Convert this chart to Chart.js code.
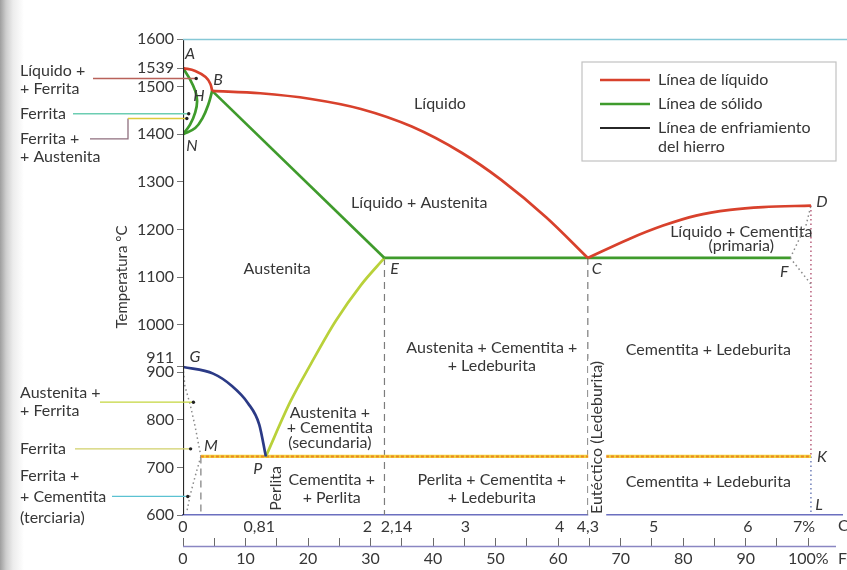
<!DOCTYPE html>
<html lang="es">
<head>
<meta charset="utf-8">
<title>Diagrama hierro-carbono</title>
<script src="https://cdn.jsdelivr.net/npm/chart.js@4.4.1/dist/chart.umd.min.js"></script>
<style>
  html, body { margin: 0; padding: 0; }
  body {
    width: 847px; height: 570px; overflow: hidden;
    background: linear-gradient(to right, #9e9e9e 0px, #cdcdcd 6px, #ececec 13px, #fff 24px);
  }
</style>
</head>
<body>
<canvas id="chart" width="847" height="570"></canvas>
<script>
// Curvas del diagrama: [% de carbono, temperatura °C]
const enfriamiento = [[0, 600], [0, 1600]];
const liquidoAB = [[0, 1539], [0.13, 1533], [0.24, 1520], [0.29, 1506], [0.31, 1491]];
const liquidoBC = [[0.31, 1491], [0.82, 1486], [1.36, 1474], [1.89, 1453], [2.43, 1416],
                   [2.96, 1361], [3.38, 1304], [3.86, 1225], [4.3, 1140]];
const liquidoCD = [[4.3, 1140], [4.74, 1180], [5.10, 1208], [5.45, 1229], [5.81, 1241],
                   [6.16, 1247], [6.67, 1250]];
const solidoAHN = [[0, 1539], [0.075, 1515], [0.13, 1491], [0.15, 1470], [0.13, 1446],
                   [0.075, 1420], [0, 1400]];
const solidoNB = [[0, 1400], [0.13, 1413], [0.21, 1435], [0.27, 1463], [0.31, 1491]];
const solidoBE = [[0.31, 1491], [2.14, 1140]];
const solidoEF = [[2.14, 1140], [6.45, 1140]];
const lineaGP = [[0, 911], [0.32, 897], [0.52, 871], [0.69, 835], [0.81, 790], [0.88, 723]];
const lineaPE = [[0.88, 723], [1.14, 838], [1.36, 918], [1.62, 1007], [1.89, 1083], [2.14, 1140]];
const lineaMK = [[0.19, 723], [6.67, 723]];
const lineaGM = [[0, 911], [0.02, 871], [0.075, 833], [0.13, 785], [0.19, 723]];
const lineaMQ = [[0.19, 723], [0.13, 682], [0.075, 641], [0.04, 606]];
const lineaFD = [[6.45, 1140], [6.62, 1210], [6.67, 1250]];
const lineaFK = [[6.45, 1140], [6.67, 1085]];
const lineaDK = [[6.67, 1250], [6.67, 723]];
const lineaKL = [[6.67, 723], [6.67, 600]];
const verticalE = [[2.14, 1140], [2.14, 600]];
const verticalC = [[4.3, 1140], [4.3, 600]];
const verticalM = [[0.19, 723], [0.19, 600]];

// Ejes
const tempTicks = [600, 700, 800, 900, 911, 1000, 1100, 1200, 1300, 1400, 1500, 1539, 1600];
const tempLabels = ['600', '700', '800', '900', '911', '1000', '1100', '1200', '1300', '1400', '1500', '1539', '1600'];
const carbonTicks = [0, 0.81, 2, 2.14, 3, 4, 4.3, 5, 6, 6.67];
const carbonLabels = ['0', '0,81', '2', '2,14', '3', '4', '4,3', '5', '6', '7%'];
const feTicks = [0, 5, 10, 15, 20, 25, 30, 35, 40, 45, 50, 55, 60, 65, 70, 75, 80, 85, 90, 95, 100];
const feLabels = ['0', '', '10', '', '20', '', '30', '', '40', '', '50', '', '60', '', '70', '', '80', '', '90', '', '100%'];

// Leyenda
const legendEntries = [
  { dataset: 'Línea de líquido', text: ['Línea de líquido'] },
  { dataset: 'Línea de sólido', text: ['Línea de sólido'] },
  { dataset: 'Línea de enfriamiento del hierro', text: ['Línea de enfriamiento', 'del hierro'] },
];

// Rótulos de las zonas (posición en % C y °C)
const regionLabels = [
  { text: ['Líquido'], c: 2.73, t: 1463 },
  { text: ['Líquido + Austenita'], c: 2.51, t: 1255 },
  { text: ['Austenita'], c: 1.0, t: 1118 },
  { text: ['Líquido + Cementita', '(primaria)'], c: 5.93, t: 1181, lh: 14 },
  { text: ['Austenita + Cementita +', '+ Ledeburita'], c: 3.28, t: 933 },
  { text: ['Cementita + Ledeburita'], c: 5.58, t: 947 },
  { text: ['Austenita +', '+ Cementita', '(secundaria)'], c: 1.56, t: 783, lh: 15 },
  { text: ['Perlita'], c: 0.99, t: 656, vertical: true },
  { text: ['Cementita +', '+ Perlita'], c: 1.58, t: 655 },
  { text: ['Perlita + Cementita +', '+ Ledeburita'], c: 3.28, t: 655 },
  { text: ['Eutéctico (Ledeburita)'], c: 4.40, t: 763, vertical: true, backed: true },
  { text: ['Cementita + Ledeburita'], c: 5.58, t: 669 },
];

const pointLetters = [
  { name: 'A', c: 0, t: 1539, dx: 7, dy: -14 },
  { name: 'B', c: 0.31, t: 1491, dx: 6, dy: -11 },
  { name: 'H', c: 0.17, t: 1480, dx: 0, dy: 0 },
  { name: 'N', c: 0, t: 1400, dx: 9, dy: 12 },
  { name: 'E', c: 2.14, t: 1140, dx: 10, dy: 11 },
  { name: 'C', c: 4.3, t: 1140, dx: 9, dy: 11 },
  { name: 'F', c: 6.45, t: 1140, dx: -6, dy: 14 },
  { name: 'D', c: 6.67, t: 1250, dx: 11, dy: -4 },
  { name: 'K', c: 6.67, t: 723, dx: 11, dy: 0 },
  { name: 'L', c: 6.67, t: 600, dx: 8, dy: -10 },
  { name: 'G', c: 0, t: 911, dx: 12, dy: -10 },
  { name: 'M', c: 0.19, t: 723, dx: 10, dy: -11 },
  { name: 'P', c: 0.88, t: 723, dx: -8, dy: 12 },
];

// Rótulos a la izquierda del eje, con su línea de referencia
const leftNotes = [
  { lines: ['Líquido +', '+ Ferrita'], t: 1517, row: -8, step: 18, from: 93, to: 0.13, color: '#b9625a' },
  { lines: ['Ferrita'], t: 1443, row: 0, step: 18, from: 73, to: 0.05, color: '#6ccdb2' },
  { lines: ['Ferrita +', '+ Austenita'], t: 1390, row: 0, step: 18, from: 90, to: 0.03,
    elbowX: 128, elbowT: 1433, color: '#8f6f7e', color2: '#dccb3a' },
  { lines: ['Austenita +', '+ Ferrita'], t: 837, row: -9, step: 18, from: 100, to: 0.10, color: '#c4d63e' },
  { lines: ['Ferrita'], t: 739, row: 0, step: 18, from: 75, to: 0.07, color: '#d1d06a' },
  { lines: ['Ferrita +', '+ Cementita', '(terciaria)'], t: 639, row: -21, step: 21, from: 112, to: 0.04, color: '#5bc2d2' },
];

const textColor = '#363636';
const family = 'Lato, "Open Sans", sans-serif';
const font = (size, style) => `${style || ''} ${size}px ${family}`;

const red = '#d8412c', green = '#3f9b2c', navy = '#2b3a86', lime = '#b9d13a';
const orange = '#ea8526', amber = '#f3d33e', gray = '#7c7c7c';

function line(label, data, color, extra) {
  return Object.assign({
    label, data: data.map(([x, y]) => ({ x, y })),
    borderColor: color, borderWidth: 2.7, showLine: true,
    pointRadius: 0, pointHoverRadius: 0, tension: 0, fill: false,
  }, extra);
}

const smooth = { tension: 0.4 };
const monotone = { cubicInterpolationMode: 'monotone' };
const dashed = { borderWidth: 1.2, borderDash: [7, 5] };
const dotted = { borderWidth: 1.5, borderDash: [1.5, 3] };

// first dataset is drawn on top
const datasets = [
  line('Línea de enfriamiento del hierro', enfriamiento, '#272727', { borderWidth: 2.2 }),
  line('Línea de líquido', liquidoAB, red, smooth),
  line('Líquido B-C', liquidoBC, red, monotone),
  line('Líquido C-D', liquidoCD, red, monotone),
  line('Línea de sólido', solidoAHN, green, smooth),
  line('Sólido N-B', solidoNB, green, smooth),
  line('Sólido B-E', solidoBE, green),
  line('Sólido E-F', solidoEF, green),
  line('G-P', lineaGP, navy, monotone),
  line('P-E', lineaPE, lime, monotone),
  line('M-K', lineaMK, orange, { borderWidth: 2, borderDash: [3, 2] }),
  line('M-K fondo', lineaMK, amber, { borderWidth: 3.2 }),
  line('E vertical', verticalE, gray, dashed),
  line('C vertical', verticalC, gray, dashed),
  line('M vertical', verticalM, gray, dashed),
  line('G-M', lineaGM, '#8a8a8a', dotted),
  line('M-Q', lineaMQ, '#8a8a8a', dotted),
  line('F-D', lineaFD, '#8a8a8a', dotted),
  line('F-K', lineaFK, '#8a8a8a', dotted),
  line('D-K', lineaDK, '#b8607c', dotted),
  line('K-L', lineaKL, '#6f7fb8', dotted),
];

// small label nudges so that neighbouring ticks do not collide
const carbonNudge = { '2': ['', '\u2002'], '2,14': ['\u2003\u2003', ''], '7%': ['', '\u2003\u2009'] };

const diagramNotes = {
  id: 'diagramNotes',
  afterDraw(chart) {
    const { ctx, chartArea: area } = chart;
    const { x, y, fe } = chart.scales;
    const px = c => x.getPixelForValue(c);
    const py = t => y.getPixelForValue(t);
    ctx.save();
    ctx.textBaseline = 'middle';

    // marco superior
    ctx.strokeStyle = '#86c8d6';
    ctx.lineWidth = 1.5;
    ctx.beginPath();
    ctx.moveTo(area.left, area.top + 0.5);
    ctx.lineTo(chart.width, area.top + 0.5);
    ctx.stroke();

    // línea del eje de Fe (las marcas quedan por encima)
    const feLineY = fe.top + fe.options.grid.tickLength + 0.5;
    ctx.strokeStyle = '#8a86c2';
    ctx.beginPath();
    ctx.moveTo(fe.left, feLineY);
    ctx.lineTo(fe.right - 6, feLineY);
    ctx.stroke();

    ctx.fillStyle = textColor;
    ctx.font = font(16);
    ctx.textAlign = 'left';
    ctx.fillText('C', area.right - 4, x.top + 11);
    ctx.fillText('Fe', area.right - 4, feLineY + 12);

    // zonas
    ctx.textAlign = 'center';
    regionLabels.forEach(r => {
      const cx = px(r.c), cy = py(r.t);
      const lh = r.lh || 18;
      if (r.vertical) {
        ctx.save();
        ctx.translate(cx, cy);
        ctx.rotate(-Math.PI / 2);
        if (r.backed) {
          const w = ctx.measureText(r.text[0]).width;
          ctx.fillStyle = '#fff';
          ctx.fillRect(-w / 2 - 2, -9, w + 4, 18);
        }
        ctx.fillStyle = textColor;
        ctx.fillText(r.text[0], 0, 0);
        ctx.restore();
      } else {
        r.text.forEach((s, i) => ctx.fillText(s, cx, cy + (i - (r.text.length - 1) / 2) * lh));
      }
    });

    // letras de los puntos
    ctx.font = font(16, 'italic');
    pointLetters.forEach(p => ctx.fillText(p.name, px(p.c) + p.dx, py(p.t) + p.dy));

    // rótulos de la izquierda
    ctx.font = font(16);
    leftNotes.forEach(n => {
      const ly = py(n.t);
      ctx.fillStyle = textColor;
      ctx.textAlign = 'left';
      n.lines.forEach((s, i) => ctx.fillText(s, 20, ly + n.row + i * n.step));
      ctx.lineWidth = 1.3;
      ctx.strokeStyle = n.color;
      let endY = ly;
      ctx.beginPath();
      ctx.moveTo(n.from, ly);
      if (n.elbowX) {
        endY = py(n.elbowT);
        ctx.lineTo(n.elbowX, ly);
        ctx.lineTo(n.elbowX, endY);
        ctx.stroke();
        ctx.strokeStyle = n.color2;
        ctx.beginPath();
        ctx.moveTo(n.elbowX, endY);
      }
      ctx.lineTo(px(n.to), endY);
      ctx.stroke();
      ctx.fillStyle = '#222';
      ctx.beginPath();
      ctx.arc(px(n.to) + 1, endY, 1.7, 0, Math.PI * 2);
      ctx.fill();
    });

    // leyenda
    const bx = area.right - 260, by = area.top + 23, bw = 254, bh = 99;
    ctx.fillStyle = '#fff';
    ctx.fillRect(bx, by, bw, bh);
    ctx.strokeStyle = '#c2c2c2';
    ctx.lineWidth = 1.2;
    ctx.strokeRect(bx, by, bw, bh);
    legendEntries.forEach((e, i) => {
      const ds = chart.data.datasets.find(d => d.label === e.dataset);
      const ry = by + 18 + i * 24;
      ctx.strokeStyle = ds.borderColor;
      ctx.lineWidth = ds.borderWidth;
      ctx.beginPath();
      ctx.moveTo(bx + 18, ry);
      ctx.lineTo(bx + 68, ry);
      ctx.stroke();
      ctx.fillStyle = textColor;
      ctx.textAlign = 'left';
      e.text.forEach((s, k) => ctx.fillText(s, bx + 76, ry + k * 19));
    });
    ctx.restore();
  },
};

new Chart(document.getElementById('chart'), {
  type: 'scatter',
  data: { datasets },
  options: {
    responsive: false,
    animation: false,
    events: [],
    layout: { padding: { left: 113, right: 5, top: 39, bottom: 2 } },
    plugins: { legend: { display: false }, tooltip: { enabled: false } },
    scales: {
      x: {
        type: 'linear', position: 'bottom', min: 0, max: 7, weight: 0,
        grid: { display: false, drawTicks: false },
        border: { display: true, color: '#6b6fbf', width: 1.6 },
        afterBuildTicks: s => { s.ticks = carbonTicks.map(v => ({ value: v })); },
        afterFit: s => { s.height = 23; },
        ticks: {
          autoSkip: false, maxRotation: 0, padding: 2, color: textColor,
          font: { family, size: 16 },
          callback: (v, i) => {
            const lab = carbonLabels[i];
            const n = carbonNudge[lab];
            return n ? n[0] + lab + n[1] : lab;
          },
        },
      },
      fe: {
        type: 'linear', axis: 'x', position: 'bottom', min: 0, max: 105.4, weight: 1,
        grid: { display: true, drawOnChartArea: false, drawTicks: true, tickLength: 8, color: '#6a6a6a' },
        border: { display: false },
        afterBuildTicks: s => { s.ticks = feTicks.map(v => ({ value: v })); },
        afterFit: s => { s.height = 30; },
        ticks: {
          autoSkip: false, maxRotation: 0, padding: 3, color: textColor,
          font: { family, size: 16 },
          callback: (v, i) => feLabels[i],
        },
      },
      y: {
        type: 'linear', min: 600, max: 1600,
        grid: { display: true, drawOnChartArea: false, drawTicks: true, tickLength: 6, color: '#777' },
        border: { display: false },
        afterBuildTicks: s => { s.ticks = tempTicks.map(v => ({ value: v })); },
        afterFit: s => { s.width = 70; },
        ticks: {
          autoSkip: false, padding: 3, color: textColor,
          font: { family, size: 16 },
          callback: (v, i) => (v === 911 ? [tempLabels[i], ''] : tempLabels[i]),
        },
        title: {
          display: true, text: 'Temperatura °C', color: textColor,
          font: { family, size: 15 }, padding: 0,
        },
      },
    },
  },
  plugins: [diagramNotes],
});
</script>
</body>
</html>
